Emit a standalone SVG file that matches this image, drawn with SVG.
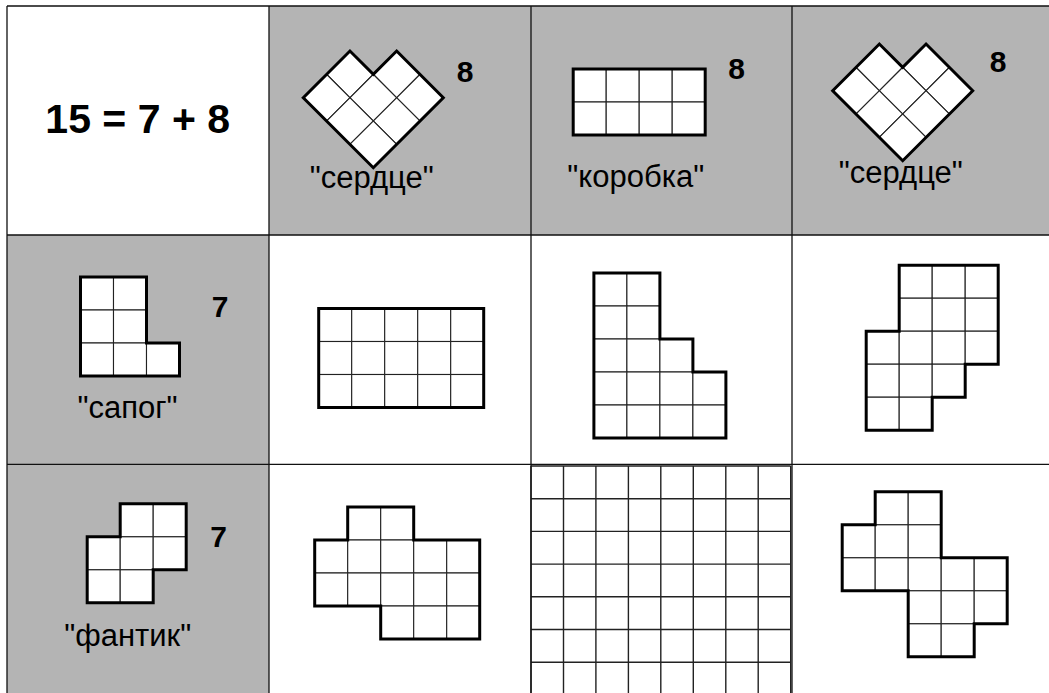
<svg xmlns="http://www.w3.org/2000/svg" xmlns:xlink="http://www.w3.org/1999/xlink" width="1049" height="693" viewBox="0 0 1049 693">
<style>
.bg{fill:#b4b4b4}
.tl{stroke:#111;stroke-width:1.3;fill:none}
.cell{fill:#fff;stroke:#222;stroke-width:1.1}
.ol{fill:none;stroke:#000;stroke-width:3;stroke-linejoin:miter}
.num{font-family:"Liberation Sans",Arial,sans-serif;font-weight:bold;font-size:30px;fill:#000;text-anchor:middle}
.lbl{font-family:"Liberation Sans",Arial,sans-serif;font-size:31px;fill:#000;text-anchor:middle}
.eq{font-family:"Liberation Sans",Arial,sans-serif;font-weight:bold;font-size:41px;fill:#000;text-anchor:middle}
.gl{stroke:#222;stroke-width:1.4;fill:none}
</style>
<defs>
<rect id="c" width="33" height="33" class="cell"/>
</defs>
<rect width="1049" height="693" fill="#fff"/>
<g id="backgrounds">
<rect class="bg" x="269" y="6" width="780" height="229"/>
<rect class="bg" x="7" y="235" width="262" height="229.3"/>
<rect class="bg" x="7" y="464.3" width="262" height="228.7"/>
</g>
<g id="equation">
<text class="eq" x="137.7" y="133.3">15 = 7 + 8</text>
</g>
<g id="heart1">
<g transform="translate(373.3,97.7) rotate(45)">
<use href="#c" x="-16.5" y="-49.5"/><use href="#c" x="16.5" y="-49.5"/>
<use href="#c" x="-49.5" y="-16.5"/><use href="#c" x="-16.5" y="-16.5"/><use href="#c" x="16.5" y="-16.5"/>
<use href="#c" x="-49.5" y="16.5"/><use href="#c" x="-16.5" y="16.5"/><use href="#c" x="16.5" y="16.5"/>
<path class="ol" d="M-16.5,-49.5h66v99h-99v-66h33z"/>
</g>
<text class="num" x="465" y="81.7">8</text>
<text class="lbl" x="371.7" y="188">"сердце"</text>
</g>
<g id="box">
<g transform="translate(573.2,69)">
<use href="#c" x="0" y="0"/><use href="#c" x="33" y="0"/><use href="#c" x="66" y="0"/><use href="#c" x="99" y="0"/>
<use href="#c" x="0" y="33"/><use href="#c" x="33" y="33"/><use href="#c" x="66" y="33"/><use href="#c" x="99" y="33"/>
<path class="ol" d="M0,0h132v66h-132z"/>
</g>
<text class="num" x="736.7" y="78.5">8</text>
<text class="lbl" x="635.8" y="186.7">"коробка"</text>
</g>
<g id="heart2">
<g transform="translate(902.7,90.7) rotate(45)">
<use href="#c" x="-16.5" y="-49.5"/><use href="#c" x="16.5" y="-49.5"/>
<use href="#c" x="-49.5" y="-16.5"/><use href="#c" x="-16.5" y="-16.5"/><use href="#c" x="16.5" y="-16.5"/>
<use href="#c" x="-49.5" y="16.5"/><use href="#c" x="-16.5" y="16.5"/><use href="#c" x="16.5" y="16.5"/>
<path class="ol" d="M-16.5,-49.5h66v99h-99v-66h33z"/>
</g>
<text class="num" x="998" y="71.7">8</text>
<text class="lbl" x="900.8" y="182.5">"сердце"</text>
</g>
<g id="boot">
<g transform="translate(80.5,277)">
<use href="#c" x="0" y="0"/><use href="#c" x="33" y="0"/>
<use href="#c" x="0" y="33"/><use href="#c" x="33" y="33"/>
<use href="#c" x="0" y="66"/><use href="#c" x="33" y="66"/><use href="#c" x="66" y="66"/>
<path class="ol" d="M0,0h66v66h33v33h-99z"/>
</g>
<text class="num" x="220" y="316.7">7</text>
<text class="lbl" x="127.5" y="417.7">"сапог"</text>
</g>
<g id="rect15">
<g transform="translate(318.7,308.5)">
<use href="#c" x="0" y="0"/><use href="#c" x="33" y="0"/><use href="#c" x="66" y="0"/><use href="#c" x="99" y="0"/><use href="#c" x="132" y="0"/>
<use href="#c" x="0" y="33"/><use href="#c" x="33" y="33"/><use href="#c" x="66" y="33"/><use href="#c" x="99" y="33"/><use href="#c" x="132" y="33"/>
<use href="#c" x="0" y="66"/><use href="#c" x="33" y="66"/><use href="#c" x="66" y="66"/><use href="#c" x="99" y="66"/><use href="#c" x="132" y="66"/>
<path class="ol" d="M0,0h165v99h-165z"/>
</g>
</g>
<g id="stairs">
<g transform="translate(593.9,273)">
<use href="#c" x="0" y="0"/><use href="#c" x="33" y="0"/>
<use href="#c" x="0" y="33"/><use href="#c" x="33" y="33"/>
<use href="#c" x="0" y="66"/><use href="#c" x="33" y="66"/><use href="#c" x="66" y="66"/>
<use href="#c" x="0" y="99"/><use href="#c" x="33" y="99"/><use href="#c" x="66" y="99"/><use href="#c" x="99" y="99"/>
<use href="#c" x="0" y="132"/><use href="#c" x="33" y="132"/><use href="#c" x="66" y="132"/><use href="#c" x="99" y="132"/>
<path class="ol" d="M0,0h66v66h33v33h33v66h-132z"/>
</g>
</g>
<g id="shape-r2c4">
<g transform="translate(866.2,265.2)">
<use href="#c" x="33" y="0"/><use href="#c" x="66" y="0"/><use href="#c" x="99" y="0"/>
<use href="#c" x="33" y="33"/><use href="#c" x="66" y="33"/><use href="#c" x="99" y="33"/>
<use href="#c" x="0" y="66"/><use href="#c" x="33" y="66"/><use href="#c" x="66" y="66"/><use href="#c" x="99" y="66"/>
<use href="#c" x="0" y="99"/><use href="#c" x="33" y="99"/><use href="#c" x="66" y="99"/>
<use href="#c" x="0" y="132"/><use href="#c" x="33" y="132"/>
<path class="ol" d="M33,0h99v99h-33v33h-33v33h-66v-99h33z"/>
</g>
</g>
<g id="wrapper">
<g transform="translate(87.2,503.8)">
<use href="#c" x="33" y="0"/><use href="#c" x="66" y="0"/>
<use href="#c" x="0" y="33"/><use href="#c" x="33" y="33"/><use href="#c" x="66" y="33"/>
<use href="#c" x="0" y="66"/><use href="#c" x="33" y="66"/>
<path class="ol" d="M33,0h66v66h-33v33h-66v-66h33z"/>
</g>
<text class="num" x="218.7" y="546.7">7</text>
<text class="lbl" x="127.7" y="645.7">"фантик"</text>
</g>
<g id="shape-r3c2">
<g transform="translate(314.7,507)">
<use href="#c" x="33" y="0"/><use href="#c" x="66" y="0"/>
<use href="#c" x="0" y="33"/><use href="#c" x="33" y="33"/><use href="#c" x="66" y="33"/><use href="#c" x="99" y="33"/><use href="#c" x="132" y="33"/>
<use href="#c" x="0" y="66"/><use href="#c" x="33" y="66"/><use href="#c" x="66" y="66"/><use href="#c" x="99" y="66"/><use href="#c" x="132" y="66"/>
<use href="#c" x="66" y="99"/><use href="#c" x="99" y="99"/><use href="#c" x="132" y="99"/>
<path class="ol" d="M33,0h66v33h66v99h-99v-33h-66v-66h33z"/>
</g>
</g>
<g id="grid">
<path class="gl" d="M531,466V693M563.5,466V693M595.9,466V693M628.4,466V693M660.8,466V693M693.3,466V693M725.8,466V693M758.2,466V693M790.7,466V693M531,466H790.7M531,498.7H790.7M531,531.4H790.7M531,564.1H790.7M531,596.8H790.7M531,629.5H790.7M531,662.2H790.7"/>
</g>
<g id="shape-r3c4">
<g transform="translate(842.2,491.8)">
<use href="#c" x="33" y="0"/><use href="#c" x="66" y="0"/>
<use href="#c" x="0" y="33"/><use href="#c" x="33" y="33"/><use href="#c" x="66" y="33"/>
<use href="#c" x="0" y="66"/><use href="#c" x="33" y="66"/><use href="#c" x="66" y="66"/><use href="#c" x="99" y="66"/><use href="#c" x="132" y="66"/>
<use href="#c" x="66" y="99"/><use href="#c" x="99" y="99"/><use href="#c" x="132" y="99"/>
<use href="#c" x="66" y="132"/><use href="#c" x="99" y="132"/>
<path class="ol" d="M33,0h66v66h66v66h-33v33h-66v-66h-66v-66h33z"/>
</g>
</g>
<g id="table-lines">
<path class="tl" d="M7,6H1049M7,235H1049M7,464.3H1049M7,6V693M269,6V693M531,6V693M792,6V693"/>
</g>
</svg>
